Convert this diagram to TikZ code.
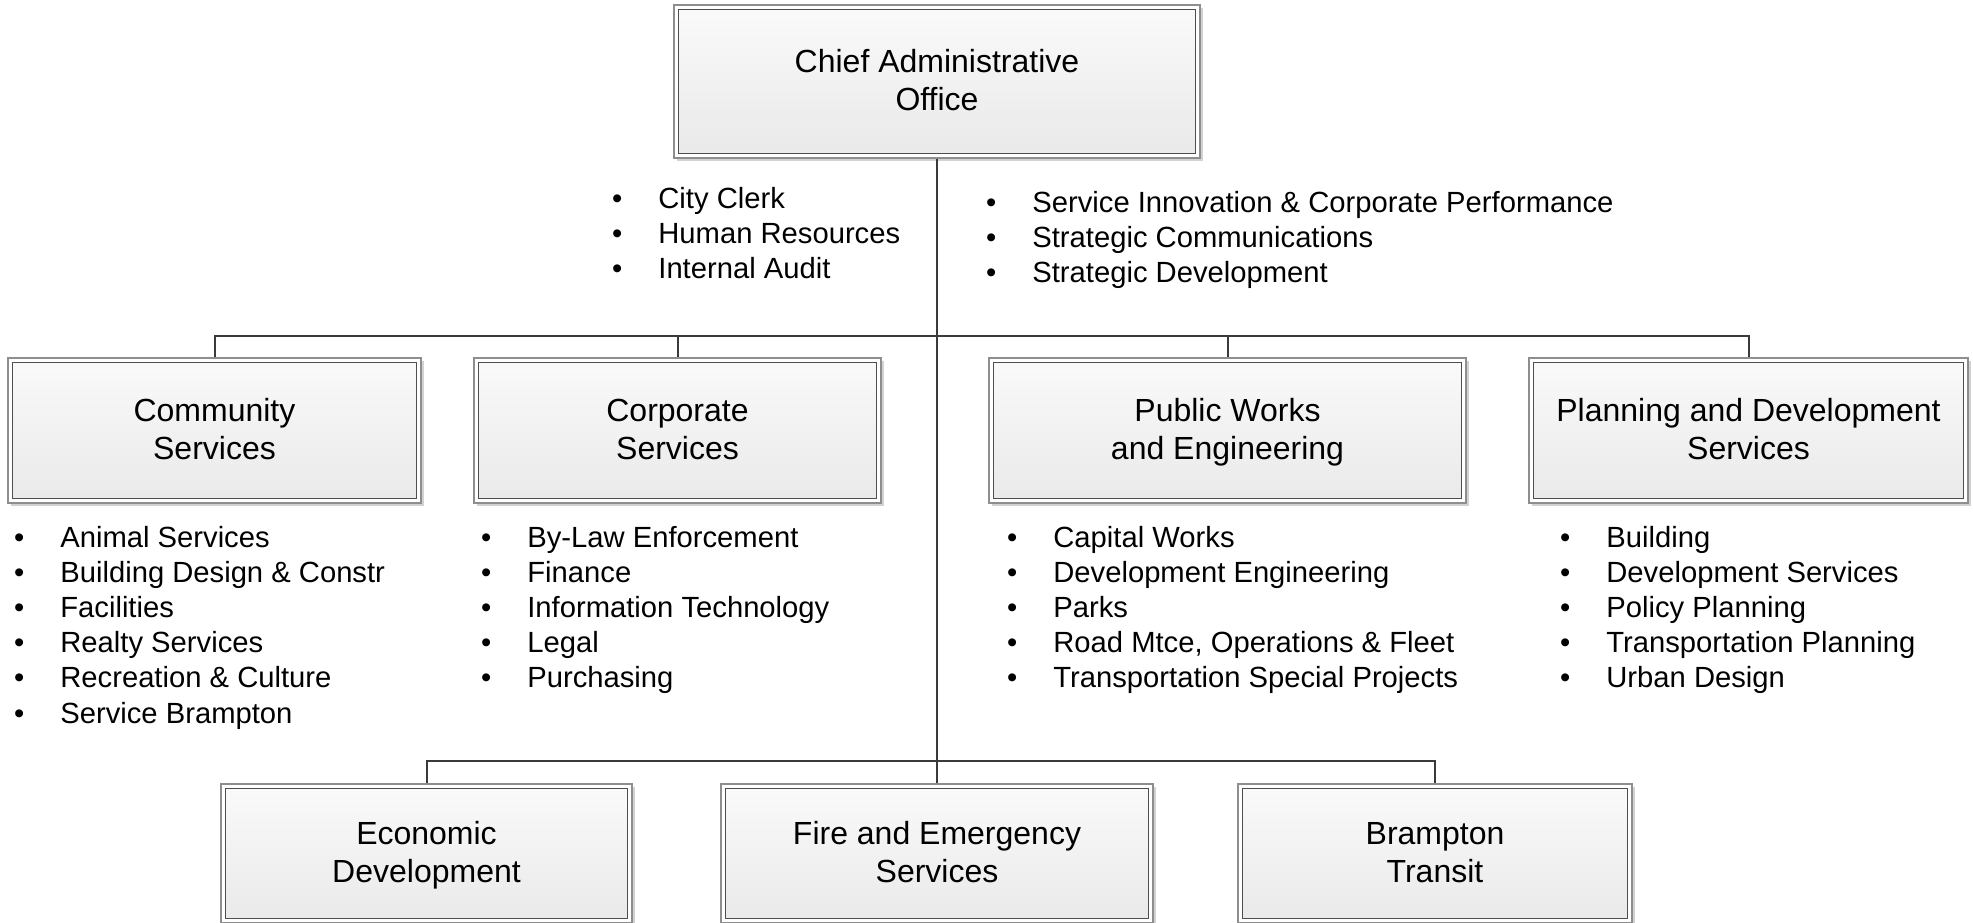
\documentclass[tikz,border=0pt]{standalone}
\usepackage{fontspec}
\setmainfont{Liberation Sans}
\usepackage{tikz}
\usetikzlibrary{shadows}
\definecolor{boxout}{HTML}{8E8E8E}
\definecolor{boxin}{HTML}{4E4E4E}
\definecolor{boxtop}{HTML}{FAFAFA}
\definecolor{boxbot}{HTML}{E9E9E9}
\definecolor{shadowgray}{HTML}{D2D2D2}
\definecolor{linkgray}{HTML}{3A3A3A}
\tikzset{
    unit/.style={rectangle, draw=boxout, line width=0.6pt, fill=white, inner sep=0pt,
        minimum height=72.5pt, align=center, font=\fontsize{16}{19}\selectfont,
        drop shadow={shadow xshift=1.6pt, shadow yshift=-1.6pt, fill=shadowgray, opacity=1},
        path picture={\draw[boxin, line width=0.6pt, top color=boxtop, bottom color=boxbot]
            ([shift={(2.2pt,-2.2pt)}]path picture bounding box.north west) rectangle
            ([shift={(-2.2pt,2.2pt)}]path picture bounding box.south east);}},
    item/.style={anchor=base west, inner sep=0pt, font=\fontsize{14.6}{17.6}\selectfont},
    link/.style={draw=linkgray, line width=1pt}
}
% two-line box text with fixed line metrics
\newcommand{\twoline}[2]{\rule[-3pt]{0pt}{16pt}#1\\#2\rule[-3pt]{0pt}{16pt}}
\newcommand{\itm}[1]{\llap{\textbullet\hspace{18pt}}#1}

\begin{document}
\begin{tikzpicture}[x=0.5pt, y=-0.5pt]
    \useasboundingbox (0,0) rectangle (1973,922);
    % units
    \node[unit, minimum width=263pt, minimum height=76.5pt] at (937,81.5) (cao) {\twoline{Chief Administrative}{Office}};
    \node[unit, minimum width=206.5pt] at (214.5,430.5) (comm) {\twoline{Community}{Services}};
    \node[unit, minimum width=203.5pt] at (677.5,430.5) (corp) {\twoline{Corporate}{Services}};
    \node[unit, minimum width=238.5pt] at (1227.5,430.5) (pubw) {\twoline{Public Works}{and Engineering}};
    \node[unit, minimum width=219.5pt] at (1748.5,430.5) (plan) {\twoline{Planning and Development}{Services}};
    \node[unit, minimum width=205.5pt, minimum height=69.5pt] at (426.5,853.5) (econ) {\twoline{Economic}{Development}};
    \node[unit, minimum width=216pt, minimum height=69.5pt] at (937,853.5) (fire) {\twoline{Fire and Emergency}{Services}};
    \node[unit, minimum width=197pt, minimum height=69.5pt] at (1435,853.5) (transit) {\twoline{Brampton}{Transit}};

    % reporting lines
    \coordinate (j1) at (937,336);
    \coordinate (j2) at (937,761);
    \path[link] (cao.south) -- (j2);
    \path[link] (comm.north) |- (j1) -| (plan.north);
    \path[link] (corp.north) -- (corp.north |- j1);
    \path[link] (pubw.north) -- (pubw.north |- j1);
    \path[link] (econ.north) |- (j2) -| (transit.north);
    \path[link] (fire.north) -- (j2);

    % divisions
    \foreach \t [count=\i from 0] in {City Clerk, Human Resources, Internal Audit}
        \node[item] (caoa\i) at (658,208+35.2*\i) {\itm{\t}};
    \foreach \t [count=\i from 0] in {Service Innovation \& Corporate Performance,
            Strategic Communications, Strategic Development}
        \node[item] (caob\i) at (1032,212+35.2*\i) {\itm{\t}};
    \foreach \t [count=\i from 0] in {Animal Services, Building Design \& Constr, Facilities,
            Realty Services, Recreation \& Culture, Service Brampton}
        \node[item] (commd\i) at (60,547+35.2*\i) {\itm{\t}};
    \foreach \t [count=\i from 0] in {By-Law Enforcement, Finance, Information Technology,
            Legal, Purchasing}
        \node[item] (corpd\i) at (527,547+35.2*\i) {\itm{\t}};
    \foreach \t [count=\i from 0] in {Capital Works, Development Engineering, Parks,
            {Road Mtce, Operations \& Fleet}, Transportation Special Projects}
        \node[item] (pubwd\i) at (1053,547+35.2*\i) {\itm{\t}};
    \foreach \t [count=\i from 0] in {Building, Development Services, Policy Planning,
            Transportation Planning, Urban Design}
        \node[item] (pland\i) at (1606,547+35.2*\i) {\itm{\t}};
\end{tikzpicture}
\end{document}
